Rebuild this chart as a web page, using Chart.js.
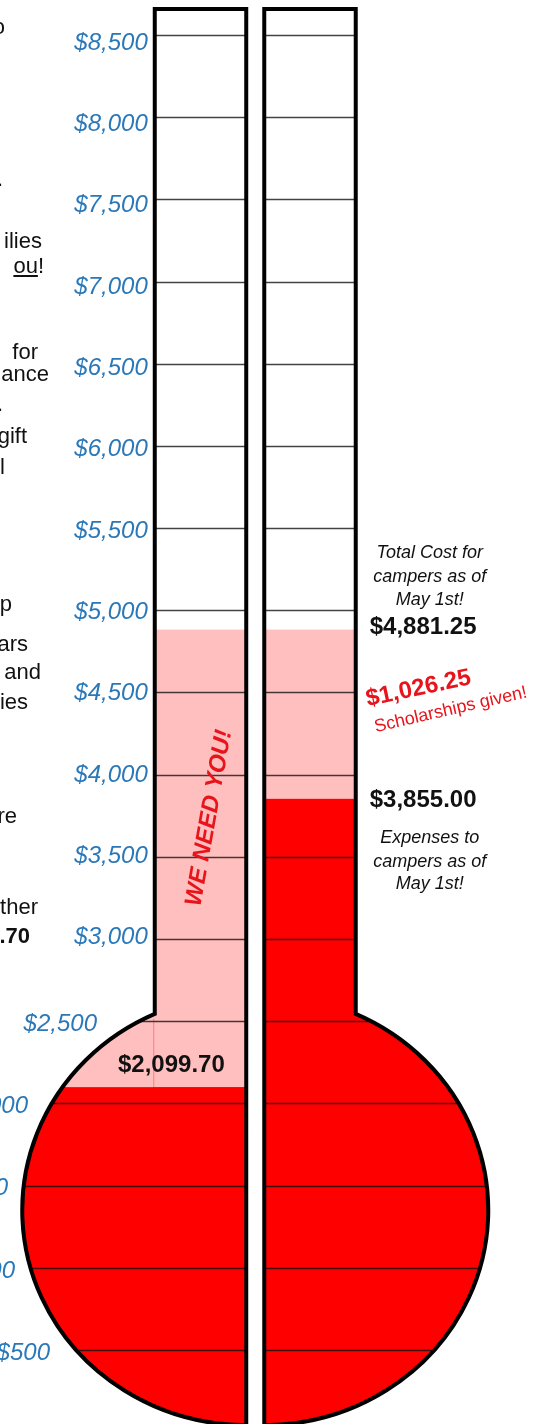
<!DOCTYPE html>
<html>
<head>
<meta charset="utf-8">
<script src="https://cdn.jsdelivr.net/npm/chart.js@4.4.1/dist/chart.umd.min.js"></script>
<style>
  html, body { margin: 0; padding: 0; background: #fff; }
  #wrap { position: relative; width: 548px; height: 1424px; overflow: hidden; font-family: "Liberation Sans", Arial, sans-serif; }
  #thermo { position: absolute; left: 0; top: 0; }
  .frag { position: absolute; white-space: nowrap; font-size: 22px; line-height: 24px; color: #111; }
</style>
</head>
<body>
<div id="wrap">
  <canvas id="thermo" width="548" height="1424"></canvas>
  <!-- left text column, cut off by the page edge -->
  <div class="frag" style="right:543px;top:15px">o</div>
  <div class="frag" style="right:545px;top:167px">.</div>
  <div class="frag" style="right:506px;top:229px">ilies</div>
  <div class="frag" style="right:504px;top:254px"><u>ou</u>!</div>
  <div class="frag" style="right:510px;top:340px">for</div>
  <div class="frag" style="right:499px;top:362px">ance</div>
  <div class="frag" style="right:545px;top:392px">.</div>
  <div class="frag" style="right:521px;top:424px">gift</div>
  <div class="frag" style="right:543px;top:455px">l</div>
  <div class="frag" style="right:536px;top:592px">p</div>
  <div class="frag" style="right:520px;top:632px">ars</div>
  <div class="frag" style="right:507px;top:660px">and</div>
  <div class="frag" style="right:520px;top:690px">ies</div>
  <div class="frag" style="right:531px;top:804px">re</div>
  <div class="frag" style="right:510px;top:895px">ther</div>
  <div class="frag" style="right:518px;top:924px;font-weight:bold">.70</div>
</div>
<script>
// ---- data ----
const sides = ['Raised', 'Expenses'];
const redValues = [2099.70, 3855.00];
const totalCost = [4881.25, 4881.25];
const scholarships = 1026.25;
const tickValues = [500, 1000, 1500, 2000, 2500, 3000, 3500, 4000, 4500, 5000, 5500, 6000, 6500, 7000, 7500, 8000, 8500];
const tickLabels = ['$500', '$1,000', '$1,500', '$2,000', '$2,500', '$3,000', '$3,500', '$4,000', '$4,500', '$5,000', '$5,500', '$6,000', '$6,500', '$7,000', '$7,500', '$8,000', '$8,500'];
const axisMin = 50;
const axisMax = 8670;
const bulbCentre = 1351;

const FONT = '"Liberation Sans", Arial, sans-serif';
const BLUE = '#2b78b9';

// tube + bulb geometry for one side, taken from the bar elements and the y scale
function geom(chart, i) {
  const bar = chart.getDatasetMeta(0).data[i];
  const y = chart.scales.y;
  const left = bar.x - bar.width / 2, right = bar.x + bar.width / 2;
  const g = {
    outerX: i === 0 ? left + 2 : right - 2,
    centerX: i === 0 ? right - 2 : left + 2,
    top: y.getPixelForValue(axisMax) + 2,
    cy: y.getPixelForValue(bulbCentre),
    a: 224,
    b: 215
  };
  g.cx = g.centerX;
  const c = (g.outerX - g.cx) / g.a;
  g.junctionY = g.cy - g.b * Math.sqrt(1 - c * c);
  g.junctionAngle = Math.atan2(-Math.sqrt(1 - c * c), c);
  return g;
}

function shapePath(ctx, g, i) {
  const xl = Math.min(g.outerX, g.centerX);
  ctx.rect(xl, g.top, Math.abs(g.centerX - g.outerX), g.cy - g.top);
  if (i === 0) {
    ctx.moveTo(g.cx, g.cy + g.b);
    ctx.ellipse(g.cx, g.cy, g.a, g.b, 0, Math.PI / 2, Math.PI * 1.5, false);
  } else {
    ctx.moveTo(g.cx, g.cy - g.b);
    ctx.ellipse(g.cx, g.cy, g.a, g.b, 0, -Math.PI / 2, Math.PI / 2, false);
  }
  ctx.closePath();
}

const thermo = {
  id: 'thermo',
  beforeDatasetDraw(chart, args) {
    const ctx = chart.ctx;
    // carry each bar on into the bulb
    args.meta.data.forEach((bar, i) => {
      const g = geom(chart, i);
      ctx.save();
      ctx.beginPath();
      shapePath(ctx, g, i);
      ctx.clip();
      const t = Math.min(bar.y, bar.base), b = Math.max(bar.y, bar.base);
      ctx.fillStyle = bar.options.backgroundColor;
      ctx.fillRect(g.cx - g.a - 2, t, 2 * g.a + 4, b - t);
      ctx.restore();
    });
    ctx.save();
    ctx.beginPath();
    sides.forEach((s, i) => shapePath(ctx, geom(chart, i), i));
    ctx.clip();
  },
  afterDatasetDraw(chart) {
    chart.ctx.restore();
  },
  afterDatasetsDraw(chart) {
    const ctx = chart.ctx;
    const y = chart.scales.y;

    sides.forEach((s, i) => {
      const g = geom(chart, i);
      // faint seam in the left bulb
      if (i === 0) {
        ctx.save();
        ctx.strokeStyle = 'rgba(255,0,0,0.35)';
        ctx.lineWidth = 1;
        ctx.beginPath();
        ctx.moveTo(g.outerX - 1, g.junctionY + 5);
        ctx.lineTo(g.outerX - 1, y.getPixelForValue(redValues[0]));
        ctx.stroke();
        ctx.restore();
      }
      // graduation lines
      ctx.save();
      ctx.beginPath();
      shapePath(ctx, g, i);
      ctx.clip();
      ctx.strokeStyle = 'rgba(20,20,20,0.8)';
      ctx.lineWidth = 1.4;
      tickValues.forEach(v => {
        const py = Math.round(y.getPixelForValue(v)) + 0.5;
        ctx.beginPath();
        ctx.moveTo(g.cx - g.a - 5, py);
        ctx.lineTo(g.cx + g.a + 5, py);
        ctx.stroke();
      });
      ctx.restore();
      // outline
      ctx.save();
      ctx.strokeStyle = '#000';
      ctx.lineWidth = 4;
      ctx.lineJoin = 'miter';
      ctx.beginPath();
      ctx.moveTo(g.centerX, chart.height + 10);
      ctx.lineTo(g.centerX, g.top);
      ctx.lineTo(g.outerX, g.top);
      ctx.lineTo(g.outerX, g.junctionY);
      ctx.ellipse(g.cx, g.cy, g.a, g.b, 0, g.junctionAngle, Math.PI / 2, i === 0);
      ctx.stroke();
      ctx.restore();
    });

    // tick labels
    const gl = geom(chart, 0);
    const bulbLabelX = { 500: 50, 1000: 15, 1500: 8, 2000: 28, 2500: 97 };
    ctx.save();
    ctx.fillStyle = BLUE;
    ctx.font = 'italic 24px ' + FONT;
    ctx.textAlign = 'right';
    ctx.textBaseline = 'middle';
    tickValues.forEach((v, k) => {
      const py = y.getPixelForValue(v);
      if (v >= 3000) {
        const off = -2.5 + (v - 3000) * 9.5 / 5500;
        ctx.fillText(tickLabels[k], gl.outerX - 7, py + off + 1);
      } else {
        ctx.fillText(tickLabels[k], bulbLabelX[v], py + 3);
      }
    });
    ctx.restore();

    // annotations
    const gr = geom(chart, 1);
    const ax = gr.outerX + 14;
    const cx = ax + 60;
    const yTotal = y.getPixelForValue(totalCost[1]);
    const yExp = y.getPixelForValue(redValues[1]);
    ctx.save();
    ctx.fillStyle = '#111';
    ctx.textAlign = 'center';
    ctx.textBaseline = 'alphabetic';
    ctx.font = 'italic 18px ' + FONT;
    ctx.fillText('Total Cost for', cx, yTotal - 72);
    ctx.fillText('campers as of', cx, yTotal - 48);
    ctx.fillText('May 1st!', cx, yTotal - 25);
    ctx.fillText('Expenses to', cx, yExp + 44);
    ctx.fillText('campers as of', cx, yExp + 68);
    ctx.fillText('May 1st!', cx, yExp + 90);
    ctx.textAlign = 'left';
    ctx.font = 'bold 24px ' + FONT;
    ctx.fillText('$' + totalCost[1].toLocaleString('en-US', { minimumFractionDigits: 2 }), ax, yTotal + 4);
    ctx.fillText('$' + redValues[1].toLocaleString('en-US', { minimumFractionDigits: 2 }), ax, yExp + 8);
    ctx.fillText('$' + redValues[0].toLocaleString('en-US', { minimumFractionDigits: 2 }), 118, y.getPixelForValue(redValues[0]) - 15);

    // scholarships, tilted
    ctx.fillStyle = '#e8141b';
    ctx.save();
    ctx.translate(ax - 2, (yTotal + yExp) / 2 - 8);
    ctx.rotate(-12 * Math.PI / 180);
    ctx.font = 'bold 24px ' + FONT;
    ctx.fillText('$' + scholarships.toLocaleString('en-US', { minimumFractionDigits: 2 }), 0, 0);
    ctx.restore();
    ctx.save();
    ctx.translate(ax + 6, (yTotal + yExp) / 2 + 18);
    ctx.rotate(-13 * Math.PI / 180);
    ctx.font = '18px ' + FONT;
    ctx.fillText('Scholarships given!', 0, 0);
    ctx.restore();

    // WE NEED YOU!
    ctx.save();
    ctx.fillStyle = '#e8141b';
    ctx.translate(gl.outerX + 61, 819);
    ctx.rotate(-80 * Math.PI / 180);
    ctx.textAlign = 'center';
    ctx.font = 'italic bold 24px ' + FONT;
    ctx.fillText('WE NEED YOU!', 0, 0);
    ctx.restore();
    ctx.restore();
  }
};

new Chart(document.getElementById('thermo'), {
  type: 'bar',
  data: {
    labels: sides,
    datasets: [
      {
        label: 'Still needed',
        data: sides.map((s, i) => [redValues[i], totalCost[i]]),
        backgroundColor: '#ffbfbf'
      },
      {
        label: 'Covered',
        data: sides.map((s, i) => [0, redValues[i]]),
        backgroundColor: '#ff0000'
      }
    ]
  },
  options: {
    responsive: false,
    devicePixelRatio: 1,
    animation: false,
    events: [],
    layout: { padding: { left: 145.75, right: 183.25, top: 7, bottom: 0 } },
    datasets: {
      bar: {
        grouped: false,
        barPercentage: 0.872,
        categoryPercentage: 1,
        borderWidth: 0,
        borderSkipped: false
      }
    },
    scales: {
      x: { display: false },
      y: { display: false, min: axisMin, max: axisMax }
    },
    plugins: { legend: { display: false }, tooltip: { enabled: false } }
  },
  plugins: [thermo]
});
</script>
</body>
</html>
